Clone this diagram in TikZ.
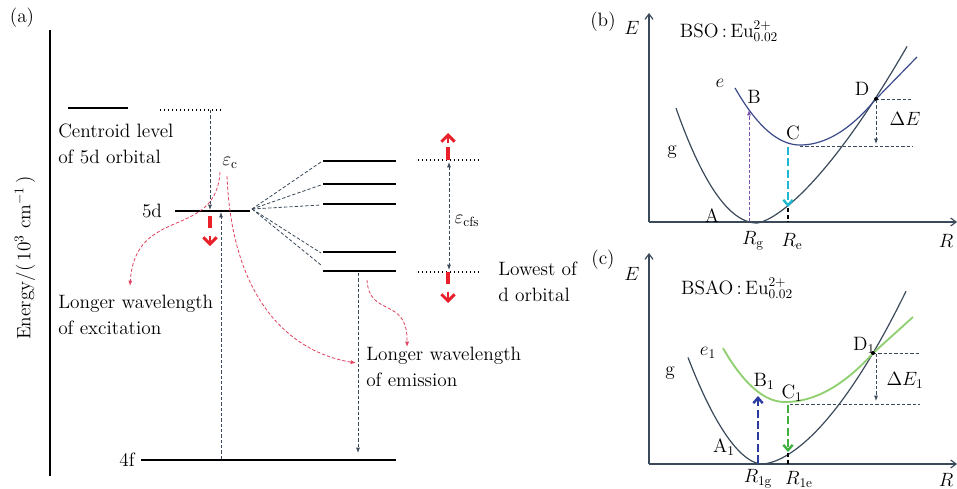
\documentclass[tikz,border=0pt]{standalone}
\usetikzlibrary{arrows.meta}
\definecolor{slate}{HTML}{3A4A5A}
\definecolor{navyc}{HTML}{3A4A8A}
\definecolor{redA}{HTML}{E8202A}
\definecolor{pinkA}{HTML}{E04060}
\definecolor{purp}{HTML}{7A50B0}
\definecolor{cyanA}{HTML}{20B8D0}
\definecolor{greenL}{HTML}{90D070}
\definecolor{greenA}{HTML}{40B040}
\definecolor{blueA}{HTML}{2A3AA0}
\begin{document}
\begin{tikzpicture}[x=0.75pt,y=-0.75pt,
  font=\fontsize{14.5}{19}\selectfont,
  lvl/.style={line width=2.2pt,black},
  dsh/.style={slate,line width=0.6pt,dash pattern=on 2.5pt off 1.5pt},
  dotl/.style={black,line width=1.1pt,dash pattern=on 1.1pt off 1.9pt},
  tipA/.style={-{Latex[length=4pt,width=3pt]}},
  tipB/.style={{Latex[length=4pt,width=3pt]}-{Latex[length=4pt,width=3pt]}},
  redbar/.style={redA,line width=2.4pt},
  redhead/.style={redA,line width=2.2pt,-{Straight Barb[length=5pt,width=10pt]}},
  pinkarr/.style={pinkA,line width=0.6pt,dash pattern=on 2.5pt off 1.5pt,-{Latex[length=4pt,width=3pt]}},
  axis/.style={slate,line width=0.9pt,-{Straight Barb[length=4pt,width=6pt]}},
  curveg/.style={slate,line width=0.9pt,line join=round},
  lbl/.style={inner sep=0pt},
  txt/.style={inner sep=0pt,align=left,anchor=north west}]
\useasboundingbox (0,0) rectangle (957,489);

% ---------------- panel (a) ----------------
\node[lbl] (la) at (22,18) {(a)};
\coordinate (axT) at (50,30);
\coordinate (axB) at (50,476);
\draw[black,line width=1.8pt] (axT) -- (axB);
\node[lbl,rotate=90] (en) at (25,258) {Energy/(\,10$^3$ cm$^{-1}$\,)};

% centroid level
\coordinate (c1) at (68,108); \coordinate (c2) at (128,108);
\draw[lvl] (c1) -- (c2);
\coordinate (cd1) at (160,110); \coordinate (cd2) at (221,110);
\draw[dotl] (cd1) -- (cd2);
\node[txt] (cent) at (58,124) {Centroid level\\of 5d orbital};
\coordinate (cA) at (210,110);
\coordinate (cB) at (210,210);
\draw[dsh,tipA] (cA) -- (cB);

% 5d level
\node[lbl] (l5d) at (152,211) {5d};
\coordinate (d1) at (175,211); \coordinate (d2) at (250,211);
\draw[lvl] (d1) -- (d2);
\node[lbl] (epsc) at (230,163) {$\varepsilon_{\mathrm c}$};
\coordinate (r5a) at (210,216); \coordinate (r5b) at (210,228);
\coordinate (r5c) at (210,236); \coordinate (r5d) at (210,246);
\draw[redbar] (r5a) -- (r5b);
\draw[redhead] (r5c) -- (r5d);

% split levels
\coordinate (fan) at (252,209);
\foreach \yy/\nm in {161/s1,184/s2,204/s3,252/s4,271/s5}{
  \coordinate (\nm L) at (323,\yy);
  \coordinate (\nm R) at (396,\yy);
  \draw[lvl] (\nm L) -- (\nm R);
}
\foreach \yy in {162,185,205,253,265}{
  \coordinate (fe) at (321,\yy);
  \draw[dsh] (fan) -- (fe);
}

% epsilon_cfs
\coordinate (t1) at (418,160); \coordinate (t2) at (480,160);
\coordinate (b1) at (418,272); \coordinate (b2) at (480,272);
\draw[dotl] (t1) -- (t2);
\draw[dotl] (b1) -- (b2);
\coordinate (cfT) at (449,162); \coordinate (cfB) at (449,270);
\draw[dsh,tipB] (cfT) -- (cfB);
\node[lbl] (epscfs) at (467,221) {$\varepsilon_{\mathrm{cfs}}$};
\coordinate (ruA) at (448,160); \coordinate (ruB) at (448,147);
\coordinate (ruC) at (448,143); \coordinate (ruD) at (448,133);
\draw[redbar] (ruA) -- (ruB);
\draw[redhead] (ruC) -- (ruD);
\coordinate (rdA) at (448,272); \coordinate (rdB) at (448,284);
\coordinate (rdC) at (448,292); \coordinate (rdD) at (448,303);
\draw[redbar] (rdA) -- (rdB);
\draw[redhead] (rdC) -- (rdD);
\node[txt] (lowest) at (498,262) {Lowest of\\d orbital};

% 4f level
\node[lbl] (l4f) at (127,460) {4f};
\coordinate (f1) at (141,460); \coordinate (f2) at (396,460);
\draw[lvl] (f1) -- (f2);
\coordinate (exA) at (221,459); \coordinate (exB) at (221,212);
\draw[dsh,tipA] (exA) -- (exB);
\coordinate (emA) at (358,273); \coordinate (emB) at (358,453);
\draw[dsh,tipA] (emA) -- (emB);

% red curved arrows
\coordinate (p1s) at (220,172); \coordinate (p1e) at (130,286);
\draw[pinkarr] (p1s) .. controls (216,240) and (135,205) .. (p1e);
\coordinate (p2s) at (227,176); \coordinate (p2e) at (356,363);
\draw[pinkarr] (p2s) .. controls (232,300) and (290,352) .. (p2e);
\coordinate (p3s) at (367,280); \coordinate (p3e) at (407,347);
\draw[pinkarr] (p3s) .. controls (369,318) and (408,296) .. (p3e);

\node[txt] (lwex) at (58,295) {Longer wavelength\\of excitation};
\node[txt] (lwem) at (366,347) {Longer wavelength\\of emission};

% ---------------- panel (b) ----------------
\node[lbl] (lb) at (603,22) {(b)};
\coordinate (bO) at (649,222);
\coordinate (bY) at (649,13);
\coordinate (bX) at (957,222);
\draw[axis] (bO) -- (bY);
\draw[axis] (bO) -- (bX);
\node[lbl] (bE) at (632,28) {$E$};
\node[lbl] (bR) at (946,241) {$R$};
\node[lbl] (bso) at (729,31) {BSO\,:\,Eu$^{2+}_{0.02}$};
% g curve
\draw[curveg] plot[domain=676:757,samples=40] (\x,{223-0.0175*(\x-757)^2})
  -- plot[domain=758:907,samples=60] (\x,{223-0.1117*(\x-757)^1.47});
% e curve
\coordinate (bDpt) at (875,100);
\coordinate (bEnd) at (917,57);
\draw[navyc,line width=0.9pt,line join=round] plot[domain=735:800,samples=30] (\x,{145-0.0135*(\x-800)^2})
  -- plot[domain=801:875,samples=30] (\x,{145-0.008*(\x-800)^2}) -- (bEnd);
\node[lbl] (be) at (720,83) {$e$};
\node[lbl] (bB) at (754,97) {B};
\node[lbl] (bC) at (793,133) {C};
\node[lbl] (bD) at (862,89) {D};
\node[lbl] (bg) at (672,152) {g};
\node[lbl] (bA) at (712,216) {A};
\node[lbl] (bRg) at (753,241) {$R_{\mathrm g}$};
\node[lbl] (bRe) at (792,241) {$R_{\mathrm e}$};
\coordinate (bBa) at (749,221); \coordinate (bBb) at (749,110);
\draw[purp,line width=0.7pt,dash pattern=on 2.5pt off 1.5pt,-{Latex[length=4pt,width=3pt]}] (bBa) -- (bBb);
\coordinate (bCa) at (788,147); \coordinate (bCb) at (788,207);
\draw[cyanA,line width=1.8pt,dash pattern=on 6pt off 2.5pt,-{Straight Barb[length=4pt,width=7pt]}] (bCa) -- (bCb);
\coordinate (bRa) at (788,208); \coordinate (bRb) at (788,222);
\draw[black,line width=1.5pt,dash pattern=on 3pt off 2pt] (bRa) -- (bRb);
\coordinate (bh1) at (800,146); \coordinate (bh2) at (913,146);
\draw[dsh] (bh1) -- (bh2);
\coordinate (bd1) at (876,99); \coordinate (bd2) at (913,99);
\draw[dsh] (bd1) -- (bd2);
\fill[black] (bd1) circle (1.5pt);
\coordinate (bdA) at (876,100); \coordinate (bdB) at (876,144);
\draw[dsh,tipA] (bdA) -- (bdB);
\node[lbl] (bdE) at (905,119) {$\Delta E$};

% ---------------- panel (c) ----------------
\node[lbl] (lc) at (603,260) {(c)};
\coordinate (cO) at (649,464);
\coordinate (cY) at (649,253);
\coordinate (cX) at (957,464);
\draw[axis] (cO) -- (cY);
\draw[axis] (cO) -- (cX);
\node[lbl] (cE) at (632,274) {$E$};
\node[lbl] (cR) at (946,480) {$R$};
\node[lbl] (bsao) at (737,288) {BSAO\,:\,Eu$^{2+}_{0.02}$};
\draw[curveg] plot[domain=688:761,samples=40] (\x,{464-0.046*(762-\x)^1.8})
  -- plot[domain=763:906,samples=60] (\x,{464-0.037*(\x-762)^1.7});
\coordinate (cEnd) at (913,317);
\draw[greenL,line width=1.4pt,line join=round] plot[domain=723:785,samples=30] (\x,{402-0.014*(\x-785)^2})
  -- plot[domain=786:873,samples=30] (\x,{402-0.0063*(\x-785)^2}) -- (cEnd);
\node[lbl] (ce) at (708,353) {$e_1$};
\node[lbl] (cg) at (670,373) {g};
\node[lbl] (cB) at (764,381) {B$_1$};
\node[lbl] (cC) at (792,393) {C$_1$};
\node[lbl] (cD) at (864,345) {D$_1$};
\node[lbl] (cA) at (724,447) {A$_1$};
\node[lbl] (cRg) at (758,479) {$R_{1\mathrm g}$};
\node[lbl] (cRe) at (799,479) {$R_{1\mathrm e}$};
\coordinate (cBa) at (758,463); \coordinate (cBb) at (758,396);
\draw[blueA,line width=1.8pt,dash pattern=on 6pt off 2.5pt,-{Straight Barb[length=4pt,width=7pt]}] (cBa) -- (cBb);
\coordinate (cCa) at (788,405); \coordinate (cCb) at (788,452);
\draw[greenA,line width=1.8pt,dash pattern=on 6pt off 2.5pt,-{Straight Barb[length=4pt,width=7pt]}] (cCa) -- (cCb);
\coordinate (cRa) at (788,453); \coordinate (cRb) at (788,464);
\draw[black,line width=1.5pt,dash pattern=on 3pt off 2pt] (cRa) -- (cRb);
\coordinate (ch1) at (790,404); \coordinate (ch2) at (920,404);
\draw[dsh] (ch1) -- (ch2);
\coordinate (cd1) at (873,353); \coordinate (cd2) at (920,353);
\draw[dsh] (cd1) -- (cd2);
\fill[black] (cd1) circle (1.5pt);
\coordinate (cdA) at (876,354); \coordinate (cdB) at (876,401);
\draw[dsh,tipA] (cdA) -- (cdB);
\node[lbl] (cdE) at (905,380) {$\Delta E_1$};
\end{tikzpicture}
\end{document}
